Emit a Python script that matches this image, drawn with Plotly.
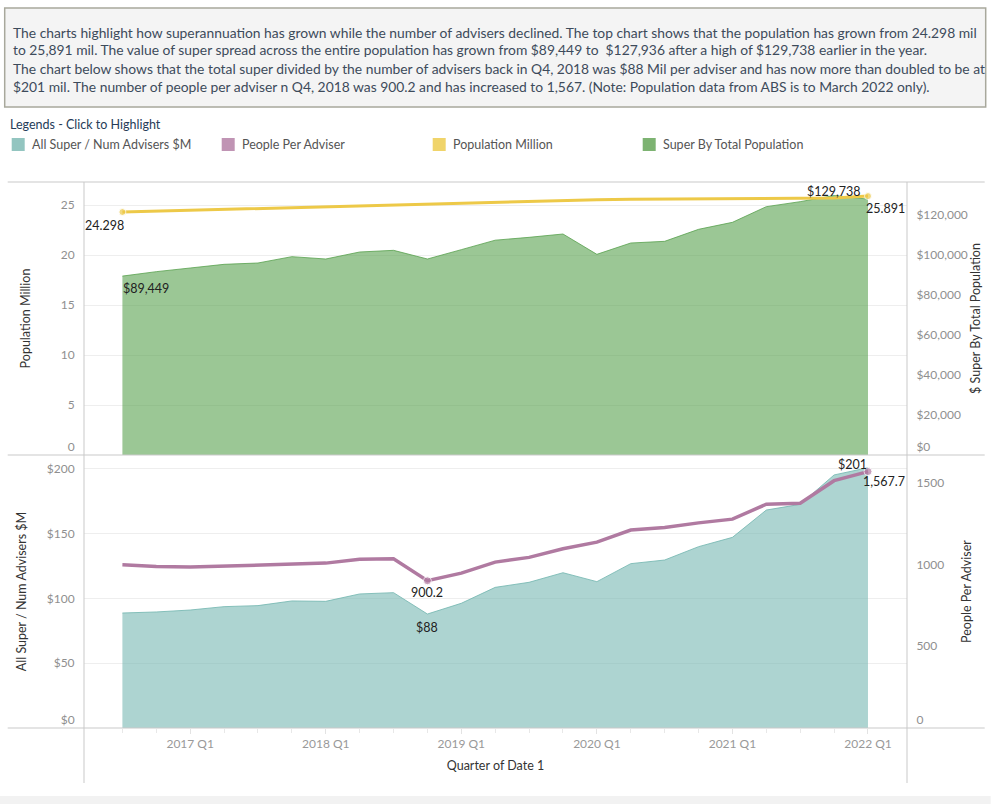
import plotly.graph_objects as go

# ---------------- data ----------------
quarters = ["2016 Q3", "2016 Q4", "2017 Q1", "2017 Q2", "2017 Q3", "2017 Q4",
            "2018 Q1", "2018 Q2", "2018 Q3", "2018 Q4", "2019 Q1", "2019 Q2",
            "2019 Q3", "2019 Q4", "2020 Q1", "2020 Q2", "2020 Q3", "2020 Q4",
            "2021 Q1", "2021 Q2", "2021 Q3", "2021 Q4", "2022 Q1"]

population_million = [24.298, 24.39, 24.48, 24.57, 24.65, 24.74, 24.83, 24.91,
                      25.00, 25.08, 25.17, 25.25, 25.34, 25.43, 25.52, 25.58,
                      25.60, 25.62, 25.64, 25.66, 25.67, 25.69, 25.891]

super_by_total_population = [89449, 91670, 93500, 95330, 96000, 99170, 98000,
                             101500, 102330, 98000, 102670, 107400, 108830,
                             110500, 100330, 106000, 106830, 112830, 116330,
                             124170, 126670, 129738, 127936]

super_per_adviser_m = [88.8, 89.6, 91.1, 93.7, 94.5, 98.1, 97.8, 103.5, 104.5,
                       88.0, 96.3, 108.6, 112.5, 119.9, 113.0, 126.9, 129.7,
                       140.0, 147.2, 168.3, 172.7, 195.4, 201.0]

people_per_adviser = [998, 988, 984, 990, 994, 998, 1008, 1031, 1035, 900.2,
                      947, 1014, 1043, 1096, 1136, 1210, 1226, 1254, 1277,
                      1368, 1374, 1512, 1567.7]

legend_labels = ["All Super / Num Advisers $M", "People Per Adviser",
                 "Population Million", "Super By Total Population"]

intro_lines = [
    "The charts highlight how superannuation has grown while the number of advisers declined. The top chart shows that the population has grown from 24.298 mil",
    "to 25,891 mil. The value of super spread across the entire population has grown from $89,449 to  $127,936 after a high of $129,738 earlier in the year.",
    "The chart below shows that the total super divided by the number of advisers back in Q4, 2018 was $88 Mil per adviser and has now more than doubled to be at",
    "$201 mil. The number of people per adviser n Q4, 2018 was 900.2 and has increased to 1,567. (Note: Population data from ABS is to March 2022 only).",
]

# axis ranges / ticks
pop_range, pop_ticks = [0, 27.3], [5, 10, 15, 20, 25]
spop_range, spop_ticks = [0, 136500], [20000, 40000, 60000, 80000, 100000, 120000]
sadv_range, sadv_ticks = [0, 210.8], [50, 100, 150, 200]
ppl_range, ppl_ticks = [0, 1669], [500, 1000, 1500]

# ---------------- styling ----------------
W, H = 991, 804
ML, MR, MT, MB = 84.3, 83.7, 182, 76
PW, PH = W - ML - MR, H - MT - MB
FONT = "Lato, 'Open Sans', sans-serif"
TICK_COLOR = "#8f8f8f"
GRID = "#eeeeee"
BORDER = "#c9c9c9"

C_TEAL_FILL = "rgba(118,183,178,0.60)"
C_TEAL_LINE = "rgba(118,183,178,0.85)"
C_GREEN_FILL = "rgba(89,161,79,0.60)"
C_GREEN_LINE = "rgba(89,161,79,0.80)"
C_YELLOW = "#EDC948"
C_PURPLE = "#B07AA1"
legend_colors = ["#93c5c0", "#c094b4", "#f0d46a", "#7db372"]


def px_x(p):
    return (p - ML) / PW


def px_y(p):
    return (H - MB - p) / PH


idx = list(range(len(quarters)))
last = len(quarters) - 1
q1_idx = [i for i, q in enumerate(quarters) if q.endswith("Q1")]
q1_txt = [quarters[i] for i in q1_idx]
i_peak = max(idx, key=lambda i: super_by_total_population[i])
i_low = min(idx, key=lambda i: people_per_adviser[i])

fig = go.Figure()

# top panel: super by total population (area) + population (line)
fig.add_trace(go.Scatter(
    x=idx, y=super_by_total_population, xaxis="x2", yaxis="y",
    mode="lines", fill="tozeroy", fillcolor=C_GREEN_FILL,
    line=dict(color=C_GREEN_LINE, width=1), hoverinfo="y", showlegend=False))
fig.add_trace(go.Scatter(
    x=idx, y=population_million, xaxis="x2", yaxis="y2",
    mode="lines+markers", line=dict(color=C_YELLOW, width=3),
    marker=dict(color=C_YELLOW, size=[7 if i in (0, last) else 0 for i in idx]),
    hoverinfo="y", showlegend=False))

# bottom panel: super per adviser (area) + people per adviser (line)
fig.add_trace(go.Scatter(
    x=idx, y=super_per_adviser_m, xaxis="x", yaxis="y3",
    mode="lines", fill="tozeroy", fillcolor=C_TEAL_FILL,
    line=dict(color=C_TEAL_LINE, width=1), hoverinfo="y", showlegend=False))
fig.add_trace(go.Scatter(
    x=idx, y=people_per_adviser, xaxis="x", yaxis="y4",
    mode="lines+markers", line=dict(color=C_PURPLE, width=3.5),
    marker=dict(color=C_PURPLE, size=[8 if i in (i_low, last) else 0 for i in idx]),
    hoverinfo="y", showlegend=False))

# invisible copies so the zero-label helper axes get drawn
for xa, ya, ys in (("x2", "y5", population_million), ("x2", "y6", super_by_total_population),
                   ("x", "y7", super_per_adviser_m), ("x", "y8", people_per_adviser)):
    fig.add_trace(go.Scatter(x=idx, y=ys, xaxis=xa, yaxis=ya, mode="lines",
                             line=dict(width=0, color="rgba(0,0,0,0)"),
                             hoverinfo="skip", showlegend=False))

# ---------------- data labels ----------------
lab_font = dict(family=FONT, size=12.5, color="#222222")
labels = [
    ("x2", "y2", 0, population_million[0], f"{population_million[0]:.3f}", -18, -13),
    ("x2", "y", 0, super_by_total_population[0], f"${super_by_total_population[0]:,}", 24, -12),
    ("x2", "y", i_peak, super_by_total_population[i_peak], f"${super_by_total_population[i_peak]:,}", 0, 4),
    ("x2", "y2", last, population_million[last], f"{population_million[last]:.3f}", 18, -12),
    ("x", "y4", i_low, people_per_adviser[i_low], f"{people_per_adviser[i_low]:,.1f}", 0, -12),
    ("x", "y3", i_low, super_per_adviser_m[i_low], f"${super_per_adviser_m[i_low]:.0f}", 0, -13),
    ("x", "y3", last, super_per_adviser_m[last], f"${super_per_adviser_m[last]:.0f}", -15, 3),
    ("x", "y4", last, people_per_adviser[last], f"{people_per_adviser[last]:,.1f}", 16, -10),
]
annotations = []
for xr, yr, xi, yv, txt, dx, dy in labels:
    annotations.append(dict(xref=xr, yref=yr, x=xi, y=yv, text=txt, showarrow=False,
                            xanchor="center", yanchor="middle", xshift=dx, yshift=dy,
                            font=lab_font))

# ---------------- intro text box ----------------
line_y = [32, 50, 68.5, 86.5]
for t, yy in zip(intro_lines, line_y):
    annotations.append(dict(xref="paper", yref="paper", x=px_x(11), y=px_y(yy),
                            text=t, showarrow=False, xanchor="left", yanchor="middle",
                            font=dict(family=FONT, size=13.85, color="#3d4b5b")))

annotations.append(dict(xref="paper", yref="paper", x=px_x(8), y=px_y(125),
                        text="Legends - Click to Highlight", showarrow=False,
                        xanchor="left", yanchor="middle",
                        font=dict(family=FONT, size=12.5, color="#263c58")))

shapes = [
    dict(type="rect", xref="paper", yref="paper", x0=px_x(5), x1=px_x(986),
         y0=px_y(8), y1=px_y(107), fillcolor="#f4f4f4",
         line=dict(color="#a8a89c", width=1.5), layer="below"),
    dict(type="rect", xref="paper", yref="paper", x0=px_x(0), x1=px_x(991),
         y0=px_y(796), y1=px_y(804), fillcolor="#f2f2f2",
         line=dict(width=0), layer="below"),
]
leg_x = [12, 222, 433, 643]
for lx, lab, col in zip(leg_x, legend_labels, legend_colors):
    shapes.append(dict(type="rect", xref="paper", yref="paper", x0=px_x(lx), x1=px_x(lx + 13),
                       y0=px_y(138), y1=px_y(151), fillcolor=col, line=dict(width=0)))
    annotations.append(dict(xref="paper", yref="paper", x=px_x(lx + 18), y=px_y(144.5),
                            text=lab, showarrow=False, xanchor="left", yanchor="middle",
                            font=dict(family=FONT, size=12.5, color="#555555")))

# panel borders
for yy in (182, 455, 728):
    shapes.append(dict(type="line", xref="paper", yref="paper", x0=px_x(8), x1=px_x(985),
                       y0=px_y(yy), y1=px_y(yy), line=dict(color=BORDER, width=1)))
for xx in (ML, W - MR):
    shapes.append(dict(type="line", xref="paper", yref="paper", x0=px_x(xx), x1=px_x(xx),
                       y0=px_y(182), y1=px_y(783), line=dict(color=BORDER, width=1)))

tickfont = dict(family=FONT, size=12, color=TICK_COLOR)
titlefont = dict(family=FONT, size=12.5, color="#333333")
hidden_tick = dict(ticks="outside", ticklen=6, tickcolor="rgba(0,0,0,0)")
plain = dict(showgrid=False, zeroline=False, showline=False)


def zero_axis(over, side, anchor, rng, text):
    # carries only the "0" label, nudged up above the panel border like the original
    return dict(overlaying=over, side=side, anchor=anchor, range=rng,
                tickvals=[0], ticktext=[text], tickfont=tickfont,
                ticklabelshift=-8, **hidden_tick, **plain)


fig.update_layout(
    width=W, height=H,
    margin=dict(l=ML, r=MR, t=MT, b=MB, autoexpand=False),
    paper_bgcolor="white", plot_bgcolor="white",
    font=dict(family=FONT),
    showlegend=False,
    xaxis=dict(domain=[0, 1], anchor="y3", range=[-1.133, 23.151],
               tickvals=q1_idx, ticktext=q1_txt,
               tickfont=dict(family=FONT, size=12, color="#999999"),
               ticks="outside", ticklen=5, tickcolor="#e3e3e3",
               minor=dict(tickvals=idx, ticks="outside", ticklen=4, tickcolor="#e8e8e8"),
               **plain,
               title=dict(text="Quarter of Date 1", font=titlefont, standoff=10)),
    xaxis2=dict(domain=[0, 1], anchor="y", matches="x", showticklabels=False,
                ticks="", **plain),
    yaxis=dict(domain=[0.5, 1], anchor="x2", side="right", range=spop_range,
               tickvals=spop_ticks, ticktext=[f"${v:,}" for v in spop_ticks],
               tickfont=tickfont, **plain, **hidden_tick,
               title=dict(text="$ Super By Total Population", font=titlefont, standoff=2)),
    yaxis2=dict(overlaying="y", anchor="x2", side="left", range=pop_range,
                tickvals=pop_ticks, ticktext=[f"{v}" for v in pop_ticks],
                tickfont=tickfont, showgrid=True, gridcolor=GRID,
                zeroline=False, showline=False, **hidden_tick,
                title=dict(text="Population Million", font=titlefont, standoff=27)),
    yaxis3=dict(domain=[0, 0.5], anchor="x", side="left", range=sadv_range,
                tickvals=sadv_ticks, ticktext=[f"${v}" for v in sadv_ticks],
                tickfont=tickfont, showgrid=True,
                gridcolor=GRID, zeroline=False, showline=False, **hidden_tick,
                title=dict(text="All Super / Num Advisers $M", font=titlefont, standoff=17)),
    yaxis4=dict(overlaying="y3", anchor="x", side="right", range=ppl_range,
                tickvals=ppl_ticks, ticktext=[f"{v}" for v in ppl_ticks],
                tickfont=tickfont, **plain, **hidden_tick,
                title=dict(text="People Per Adviser", font=titlefont, standoff=18)),
    yaxis5=zero_axis("y", "left", "x2", pop_range, "0"),
    yaxis6=zero_axis("y", "right", "x2", spop_range, "$0"),
    yaxis7=zero_axis("y3", "left", "x", sadv_range, "$0"),
    yaxis8=zero_axis("y3", "right", "x", ppl_range, "0"),
    annotations=annotations,
    shapes=shapes,
)

fig.write_html("out.html", config={"displayModeBar": False},
               post_script="document.body.style.margin='0';document.body.style.overflow='hidden';")
